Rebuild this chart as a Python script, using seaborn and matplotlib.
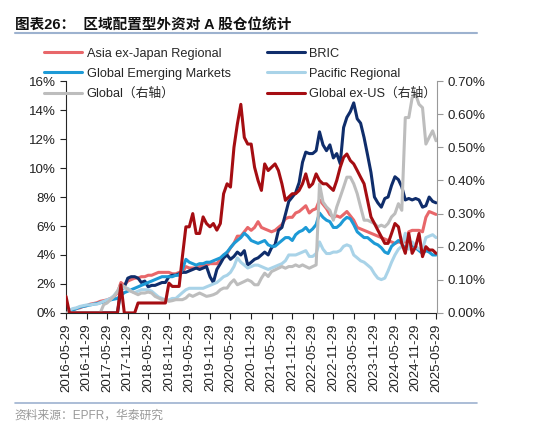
import numpy as np
import pandas as pd
import matplotlib
matplotlib.use("Agg")
import matplotlib.pyplot as plt
import matplotlib.ticker as mtick
from matplotlib.lines import Line2D
import seaborn as sns

# monthly dates, 2016-05-29 .. 2025-05-29
dates = [pd.Timestamp("2016-05-29") + pd.DateOffset(months=i) for i in range(109)]
tick_dates = [pd.Timestamp("2016-05-29") + pd.DateOffset(months=6 * i) for i in range(19)]

# left axis, %
asia_ex_japan = [0.1, 0.15, 0.2, 0.3, 0.35, 0.45, 0.5, 0.6, 0.65, 0.7,
                 0.8, 0.85, 0.9, 1.0, 1.1, 1.4, 2.1, 1.9, 2.2, 2.3,
                 2.4, 2.4, 2.5, 2.5, 2.6, 2.6, 2.7, 2.8, 2.8, 2.8,
                 2.8, 2.7, 2.7, 2.8, 2.8, 3.2, 3.1, 3.1, 3.1, 3.2,
                 3.3, 3.3, 3.4, 3.4, 3.4, 3.7, 4.0, 4.1, 4.5, 4.8,
                 5.3, 5.3, 5.6, 5.9, 5.7, 5.9, 6.3, 5.9, 5.8, 5.7,
                 5.6, 5.7, 5.9, 6.1, 6.5, 6.6, 6.6, 6.9, 7.0, 7.2,
                 7.4, 6.9, 7.1, 7.2, 7.8, 7.5, 7.2, 6.8, 6.6, 6.7,
                 6.6, 6.8, 7.0, 6.7, 6.4, 5.9, 5.8, 5.7, 5.6, 5.5,
                 5.4, 5.3, 5.2, 5.1, 5.0, 4.9, 4.8, 4.9, 4.9, 4.9,
                 5.6, 5.7, 5.7, 5.7, 5.6, 6.6, 7.0, 6.9, 6.8]

bric = [0, 0, 0, 0, 0, 0, 0, 0, 0, 0,
        0, 0, 0, 0, 0, 0, 1.6, 1.8, 2.4, 2.5,
        2.5, 2.4, 2.1, 2.2, 1.8, 1.9, 1.9, 2.0, 2.1, 2.1,
        2.5, 2.6, 2.6, 2.7, 2.8, 2.8, 2.9, 3.0, 3.1, 3.0,
        3.1, 3.2, 2.5, 2.1, 3.0, 3.4, 3.8, 4.0, 3.7, 3.9,
        4.2, 4.0, 4.3, 3.3, 3.5, 3.7, 3.8, 4.0, 4.2, 4.0,
        4.5, 4.7, 5.7, 5.9, 6.8, 7.7, 8.0, 8.3, 9.0, 10.4,
        11.1, 11.0, 11.0, 11.2, 12.5, 11.6, 11.2, 11.6, 10.7, 11.0,
        10.3, 12.8, 13.5, 13.9, 14.5, 13.4, 13.1, 12.1, 10.9, 9.7,
        8.0, 7.6, 7.3, 7.9, 8.0, 8.8, 9.4, 9.2, 8.7, 7.8,
        7.9, 7.8, 7.9, 7.8, 7.3, 7.4, 8.0, 7.7, 7.6]

gem = [0.0, 0.1, 0.2, 0.3, 0.4, 0.45, 0.5, 0.55, 0.6, 0.65,
       0.7, 0.75, 0.8, 0.9, 0.95, 1.0, 1.2, 1.4, 1.5, 1.6,
       1.7, 1.8, 1.9, 2.0, 2.1, 2.2, 2.3, 2.4, 2.5, 2.5,
       2.5, 2.5, 2.6, 2.6, 3.0, 3.7, 3.5, 3.4, 3.3, 3.4,
       3.4, 3.5, 3.5, 3.6, 3.7, 3.8, 4.0, 4.2, 4.5, 4.8,
       5.0, 5.2, 5.5, 5.3, 5.0, 4.9, 4.8, 4.9, 5.0, 4.7,
       4.6, 4.6, 4.8, 5.0, 5.2, 5.2, 5.0, 5.4, 5.6, 5.7,
       5.9, 5.6, 5.8, 6.1, 6.9, 6.6, 6.4, 6.3, 5.9, 5.9,
       6.1, 6.4, 6.6, 6.5, 6.1, 5.6, 5.4, 5.2, 5.2, 5.0,
       4.8, 4.7, 4.5, 4.2, 4.1, 4.6, 4.8, 5.0, 4.8, 4.4,
       4.5, 4.7, 4.5, 4.3, 4.1, 4.3, 4.2, 4.0, 4.0]

pacific = [0.1, 0.2, 0.3, 0.35, 0.45, 0.5, 0.55, 0.55, 0.6, 0.6,
           0.7, 0.8, 0.9, 1.0, 1.2, 1.5, 1.8, 1.7, 1.7, 1.5,
           1.4, 1.5, 1.6, 1.6, 1.6, 1.5, 1.3, 1.1, 1.0, 0.9,
           0.9, 1.0, 1.0, 1.2, 1.4, 1.6, 1.7, 1.7, 1.7, 1.7,
           1.7, 1.8, 1.9, 2.0, 2.1, 2.3, 2.5, 2.6, 2.8, 3.2,
           3.8, 3.5, 3.3, 3.1, 3.2, 3.3, 3.3, 3.2, 3.1, 3.0,
           3.1, 3.2, 3.3, 3.4, 3.6, 4.0, 4.0, 4.0, 4.1, 4.2,
           4.3, 3.9, 3.9, 4.1, 4.9, 4.4, 4.1, 4.1, 4.2, 4.2,
           4.3, 4.6, 4.7, 4.6, 4.0, 3.8, 3.6, 3.5, 3.3, 3.1,
           2.7, 2.4, 2.3, 2.4, 2.9, 3.5, 4.0, 4.4, 4.6, 5.5,
           4.4, 4.9, 4.6, 4.4, 4.4, 5.2, 5.3, 5.4, 5.2]

# right axis, %
glob = [0, 0, 0, 0, 0, 0, 0, 0, 0, 0,
        0.0, 0.025, 0.03, 0.04, 0.05, 0.065, 0.085, 0.08, 0.07, 0.065,
        0.06, 0.055, 0.06, 0.06, 0.063, 0.06, 0.05, 0.045, 0.04, 0.04,
        0.035, 0.037, 0.04, 0.04, 0.04, 0.045, 0.055, 0.05, 0.055, 0.06,
        0.055, 0.05, 0.052, 0.055, 0.06, 0.07, 0.075, 0.075, 0.09, 0.10,
        0.085, 0.09, 0.095, 0.10, 0.095, 0.085, 0.085, 0.105, 0.12, 0.11,
        0.125, 0.13, 0.135, 0.14, 0.135, 0.14, 0.14, 0.145, 0.14, 0.145,
        0.14, 0.135, 0.14, 0.145, 0.39, 0.335, 0.32, 0.31, 0.28, 0.32,
        0.35, 0.38, 0.41, 0.41, 0.39, 0.36, 0.32, 0.28, 0.28, 0.275,
        0.27, 0.26, 0.265, 0.26, 0.27, 0.29, 0.30, 0.33, 0.31, 0.59,
        0.59, 0.65, 0.66, 0.63, 0.62, 0.51, 0.53, 0.55, 0.52]

glob_ex_us = [0.05, 0, 0, 0, 0, 0, 0, 0, 0, 0,
              0, 0, 0, 0, 0, 0, 0.085, 0, 0, 0,
              0, 0.03, 0.03, 0.03, 0.03, 0.03, 0.03, 0.03, 0.03, 0.03,
              0.09, 0.08, 0.08, 0.08, 0.17, 0.26, 0.26, 0.30, 0.24, 0.24,
              0.29, 0.27, 0.26, 0.27, 0.25, 0.27, 0.36, 0.39, 0.38, 0.50,
              0.57, 0.63, 0.53, 0.51, 0.51, 0.44, 0.40, 0.37, 0.45, 0.43,
              0.44, 0.45, 0.43, 0.39, 0.34, 0.35, 0.36, 0.36, 0.37, 0.39,
              0.42, 0.38, 0.39, 0.42, 0.40, 0.39, 0.39, 0.38, 0.37, 0.40,
              0.44, 0.47, 0.48, 0.46, 0.45, 0.43, 0.41, 0.39, 0.34, 0.29,
              0.27, 0.25, 0.23, 0.21, 0.21, 0.24, 0.27, 0.26, 0.21, 0.18,
              0.24, 0.18, 0.20, 0.24, 0.17, 0.20, 0.19, 0.19, 0.18]

sns.set_style("ticks")
plt.rcParams['font.family'] = ['Liberation Sans', 'Noto Sans CJK SC', 'DejaVu Sans']
plt.rcParams['axes.unicode_minus'] = False

fig = plt.figure(figsize=(5.5, 4.34), dpi=100)
ax = fig.add_axes([0.12, 0.279, 0.674, 0.534])
ax2 = ax.twinx()

lw = 2.2
sns.lineplot(x=dates, y=asia_ex_japan, ax=ax, color='#E8676A', lw=lw, label='Asia ex-Japan Regional')
sns.lineplot(x=dates, y=bric, ax=ax, color='#0F2D6B', lw=lw, label='BRIC')
sns.lineplot(x=dates, y=gem, ax=ax, color='#1D9AD6', lw=lw, label='Global Emerging Markets')
sns.lineplot(x=dates, y=pacific, ax=ax, color='#A9D3E8', lw=lw, label='Pacific Regional')
sns.lineplot(x=dates, y=glob, ax=ax2, color='#BDBDBD', lw=lw, label='Global（右轴）')
sns.lineplot(x=dates, y=glob_ex_us, ax=ax2, color='#A50D12', lw=lw, label='Global ex-US（右轴）')

h1, l1 = ax.get_legend_handles_labels()
h2, l2 = ax2.get_legend_handles_labels()
for a in (ax, ax2):
    if a.get_legend() is not None:
        a.get_legend().remove()
hd = dict(zip(l1 + l2, h1 + h2))
order = ['Asia ex-Japan Regional', 'Global Emerging Markets', 'Global（右轴）',
         'BRIC', 'Pacific Regional', 'Global ex-US（右轴）']
fig.legend([hd[k] for k in order], order, ncol=2, loc='upper left',
           bbox_to_anchor=(0.059, 0.916), frameon=False, fontsize=9.2,
           handlelength=3.0, handletextpad=0.35, columnspacing=2.8,
           labelspacing=0.62)

ax.set_ylim(0, 16)
ax.set_yticks(np.arange(0, 17, 2))
ax.yaxis.set_major_formatter(mtick.FuncFormatter(lambda v, p: f"{v:.0f}%"))
ax2.set_ylim(0, 0.7)
ax2.set_yticks(np.arange(0, 0.71, 0.1))
ax2.yaxis.set_major_formatter(mtick.FuncFormatter(lambda v, p: f"{v:.2f}%"))

ax.set_xlim(dates[0], dates[-1] + pd.Timedelta(days=6))
ax.set_xticks(tick_dates)
ax.set_xticklabels([d.strftime('%Y-%m-%d') for d in tick_dates], rotation=90)
ax.set_xlabel('')
ax.set_ylabel('')
ax2.set_ylabel('')

for a in (ax, ax2):
    a.tick_params(labelsize=9.6, length=4, width=0.8, colors='#222222')
    a.spines['top'].set_visible(False)
ax.spines['right'].set_visible(False)
ax2.spines['left'].set_visible(False)
ax2.spines['bottom'].set_visible(False)
ax2.spines['right'].set_color('#999999')
ax2.tick_params(axis='y', colors='#999999', labelcolor='#222222')

fig.text(0.027, 0.942, '图表26：  区域配置型外资对 A 股仓位统计', fontsize=10.5,
         fontweight='bold', color='#111111', va='center')
fig.add_artist(Line2D([0.027, 0.868], [0.923, 0.923], transform=fig.transFigure,
                      color='#9DB2CF', lw=1.5))
fig.add_artist(Line2D([0.027, 0.868], [0.071, 0.071], transform=fig.transFigure,
                      color='#9DB2CF', lw=1.2))
fig.text(0.027, 0.042, '资料来源：EPFR，华泰研究', fontsize=8.5, color='#999999', va='center')

fig.savefig('out.png', dpi=100)
